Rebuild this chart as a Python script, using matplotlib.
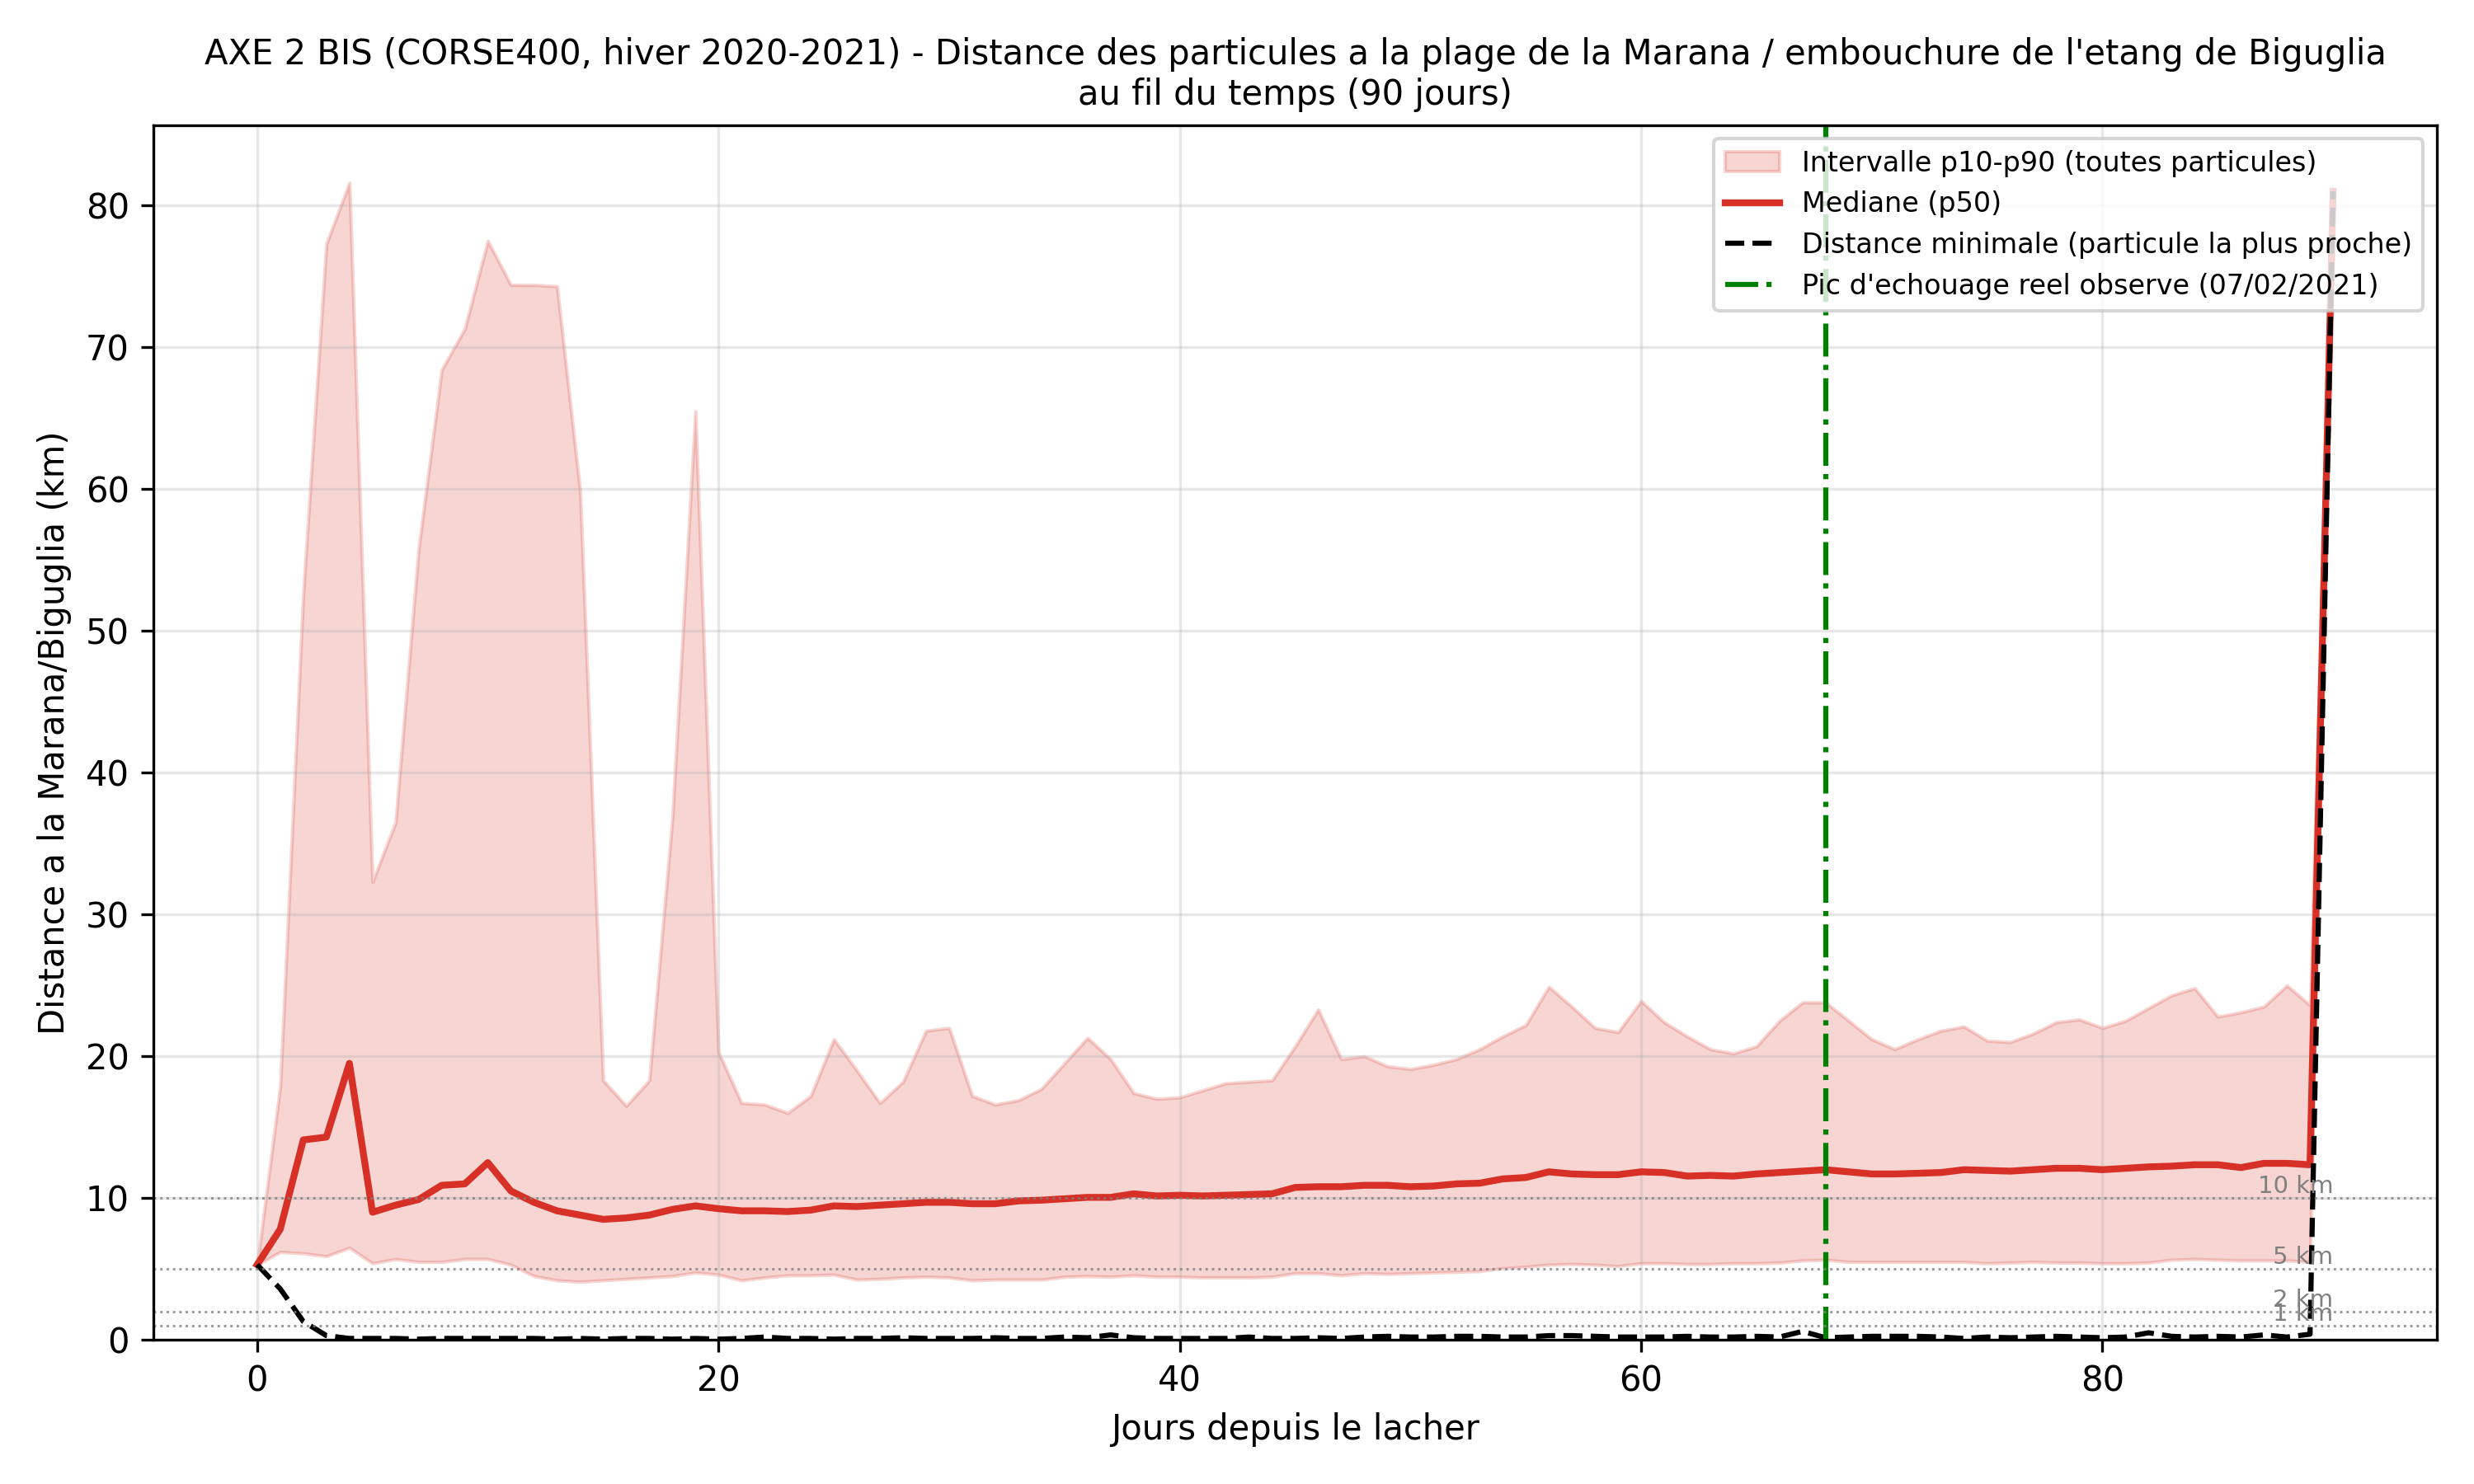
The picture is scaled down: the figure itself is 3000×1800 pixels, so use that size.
import numpy as np
import matplotlib
matplotlib.use("Agg")
import matplotlib.pyplot as plt

# Jours depuis le lacher (0 a 90)
jours = np.arange(0, 91)

# Percentile 90 de la distance (km)
p90 = [5.3, 17.9, 52.7, 77.3, 81.6, 32.3, 36.5, 55.8, 68.4, 71.3,
       77.5, 74.4, 74.4, 74.3, 59.9, 18.3, 16.5, 18.3, 36.8, 65.5,
       20.3, 16.7, 16.6, 16.0, 17.2, 21.2, 19.0, 16.7, 18.2, 21.8,
       22.0, 17.2, 16.6, 16.9, 17.7, 19.5, 21.3, 19.8, 17.4, 17.0,
       17.1, 17.6, 18.1, 18.2, 18.3, 20.7, 23.3, 19.8, 20.0, 19.3,
       19.1, 19.4, 19.8, 20.5, 21.4, 22.2, 24.9, 23.5, 22.0, 21.7,
       23.9, 22.4, 21.4, 20.5, 20.2, 20.7, 22.5, 23.8, 23.8, 22.5,
       21.2, 20.5, 21.2, 21.8, 22.1, 21.1, 21.0, 21.6, 22.4, 22.6,
       22.0, 22.5, 23.4, 24.3, 24.8, 22.8, 23.1, 23.5, 25.0, 23.6,
       81.0]

# Mediane (p50)
p50 = [5.3, 7.8, 14.1, 14.3, 19.5, 9.0, 9.5, 9.9, 10.9, 11.0,
       12.5, 10.5, 9.7, 9.1, 8.8, 8.5, 8.6, 8.8, 9.2, 9.45,
       9.25, 9.1, 9.1, 9.05, 9.15, 9.45, 9.4, 9.5, 9.6, 9.7,
       9.7, 9.6, 9.6, 9.8, 9.85, 9.95, 10.05, 10.05, 10.3, 10.15,
       10.2, 10.15, 10.2, 10.25, 10.3, 10.75, 10.8, 10.8, 10.9, 10.9,
       10.8, 10.85, 11.0, 11.05, 11.35, 11.45, 11.85, 11.7, 11.65, 11.65,
       11.85, 11.8, 11.55, 11.6, 11.55, 11.7, 11.8, 11.9, 12.0, 11.85,
       11.7, 11.7, 11.75, 11.8, 12.0, 11.95, 11.9, 12.0, 12.1, 12.1,
       12.0, 12.1, 12.2, 12.25, 12.35, 12.35, 12.15, 12.45, 12.45, 12.35,
       81.0]

# Percentile 10
p10 = [5.3, 6.2, 6.1, 5.9, 6.5, 5.4, 5.7, 5.5, 5.5, 5.7,
       5.7, 5.3, 4.5, 4.2, 4.1, 4.2, 4.3, 4.4, 4.5, 4.75,
       4.6, 4.2, 4.4, 4.55, 4.55, 4.6, 4.25, 4.3, 4.4, 4.45,
       4.4, 4.2, 4.25, 4.25, 4.25, 4.45, 4.5, 4.45, 4.55, 4.45,
       4.45, 4.4, 4.4, 4.4, 4.45, 4.7, 4.7, 4.55, 4.7, 4.65,
       4.7, 4.75, 4.8, 4.85, 5.05, 5.15, 5.3, 5.35, 5.3, 5.2,
       5.4, 5.4, 5.35, 5.35, 5.4, 5.4, 5.45, 5.6, 5.65, 5.5,
       5.5, 5.5, 5.5, 5.5, 5.5, 5.4, 5.45, 5.5, 5.45, 5.45,
       5.4, 5.4, 5.45, 5.65, 5.7, 5.65, 5.6, 5.6, 5.6, 5.5,
       81.0]

# Distance minimale (particule la plus proche)
dmin = [5.3, 3.6, 1.3, 0.3, 0.1, 0.1, 0.1, 0.05, 0.1, 0.1,
        0.1, 0.1, 0.1, 0.05, 0.1, 0.05, 0.1, 0.1, 0.05, 0.1,
        0.05, 0.1, 0.2, 0.1, 0.1, 0.05, 0.1, 0.1, 0.15, 0.1,
        0.1, 0.1, 0.15, 0.1, 0.1, 0.2, 0.15, 0.35, 0.15, 0.1,
        0.1, 0.1, 0.1, 0.2, 0.1, 0.1, 0.15, 0.1, 0.2, 0.25,
        0.2, 0.2, 0.25, 0.25, 0.2, 0.2, 0.3, 0.3, 0.25, 0.2,
        0.2, 0.2, 0.25, 0.2, 0.2, 0.25, 0.2, 0.6, 0.15, 0.2,
        0.25, 0.25, 0.25, 0.2, 0.1, 0.2, 0.15, 0.2, 0.25, 0.2,
        0.15, 0.2, 0.5, 0.25, 0.2, 0.25, 0.2, 0.35, 0.2, 0.4,
        81.0]

seuils = [10, 5, 2, 1]
jour_pic = 68

rouge = '#d73027'

fig, ax = plt.subplots(figsize=(10, 6), dpi=300)

ax.fill_between(jours, p10, p90, color=rouge, alpha=0.2,
                label="Intervalle p10-p90 (toutes particules)")
ax.plot(jours, p50, color=rouge, lw=2, label="Mediane (p50)")
ax.plot(jours, dmin, color='black', ls='--', lw=1.5,
        label="Distance minimale (particule la plus proche)")
ax.axvline(jour_pic, color='green', ls='-.', lw=1.5,
           label="Pic d'echouage reel observe (07/02/2021)")

# Seuils de distance (les etiquettes 1 km et 2 km se chevauchent, comme dans l'original)
for s in seuils:
    ax.axhline(s, color='gray', ls=':', lw=0.7, alpha=0.8)
    ax.text(90, s, f"{s} km", ha='right', va='bottom', fontsize=7, color='gray')

ax.set_ylim(bottom=0)
ax.set_xlabel("Jours depuis le lacher")
ax.set_ylabel("Distance a la Marana/Biguglia (km)")
ax.set_title("AXE 2 BIS (CORSE400, hiver 2020-2021) - Distance des particules a la plage de la Marana / "
             "embouchure de l'etang de Biguglia\nau fil du temps (90 jours)", fontsize=10)
ax.grid(True, alpha=0.3)
ax.legend(loc='upper right', fontsize=8)

plt.tight_layout()
plt.savefig("out.png")
